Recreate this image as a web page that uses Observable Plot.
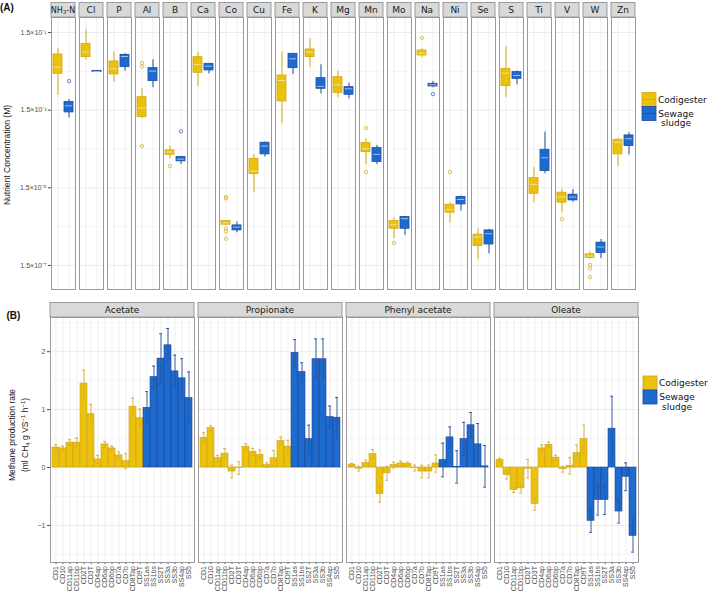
<!DOCTYPE html>
<html><head><meta charset="utf-8">
<script src="https://cdn.jsdelivr.net/npm/d3@7"></script>
<script src="https://cdn.jsdelivr.net/npm/@observablehq/plot@0.6"></script>
<style>
body{margin:0;background:#fff;}
#wrap{position:relative;width:709px;height:594px;overflow:hidden;background:#fff;}
.pa{position:absolute;left:0;}
</style></head><body><div id="wrap"></div>
<script>
// ---------- Panel A data ----------
const elements = ["NH₃-N","Cl","P","Al","B","Ca","Co","Cu","Fe","K","Mg","Mn","Mo","Na","Ni","Se","S","Ti","V","W","Zn"];
const groups = ["Codigester","Sewage sludge"];
const codLow  = [0.00358,0.0297,0.0079,0.0009,8.4e-5,0.0061,1.62e-6,1.12e-5,6.7e-4,0.0192,0.00312,5.9e-5,7.3e-7,0.0334,1.85e-6,2.11e-7,0.00312,6.2e-6,3.36e-6,2.2e-7,5.3e-5];
const codQ1   = [0.0129,0.0348,0.01245,0.00099,1.06e-4,0.01374,1.68e-6,3.38e-5,0.00251,0.0348,0.00411,1.25e-4,1.32e-6,0.0384,3.42e-6,4.74e-7,0.00623,1.05e-5,6.2e-6,2.33e-7,1.09e-4];
const codMed  = [0.0192,0.0468,0.0174,0.00169,1.25e-4,0.0225,1.88e-6,4.05e-5,0.0087,0.0468,0.00674,1.52e-4,1.68e-6,0.0441,4.08e-6,8.1e-7,0.01346,1.84e-5,8.65e-6,2.62e-7,2.25e-4];
const codQ3   = [0.0407,0.0766,0.0269,0.00324,1.38e-4,0.0348,2.09e-6,8.4e-5,0.01172,0.0547,0.0106,2.12e-4,2.09e-6,0.0516,5.5e-6,9.3e-7,0.0174,2.67e-5,1.12e-5,2.9e-7,2.59e-4];
const codHigh = [0.057,0.176,0.0468,0.00532,1.78e-4,0.0468,2.09e-6,1.09e-4,0.0468,0.103,0.0152,2.75e-4,2.55e-6,0.057,6.2e-6,1.32e-6,0.0654,5.1e-5,1.36e-5,3.33e-7,2.86e-4];
const sewLow  = [9.5e-4,0.0143,0.0152,0.00565,6.0e-5,0.0129,1.04e-6,9.3e-5,0.01245,0.00395,0.00294,5.9e-5,8.9e-7,0.00565,3.78e-6,3.0e-7,0.00674,3.45e-5,6.4e-6,2.24e-7,1.06e-4];
const sewQ1   = [0.00131,0.0143,0.0192,0.00838,7.2e-5,0.0158,1.20e-6,1.09e-4,0.0181,0.00532,0.00373,6.9e-5,1.32e-6,0.0061,5.6e-6,5.2e-7,0.0096,4.05e-5,7.1e-6,3.13e-7,1.78e-4];
const sewMed  = [0.00194,0.0149,0.0361,0.0152,8.2e-5,0.0204,1.46e-6,1.78e-4,0.0315,0.0061,0.00532,1.09e-4,2.40e-6,0.00674,7.5e-6,9.8e-7,0.01172,8.9e-5,8.65e-6,4.47e-7,2.75e-4];
const sewQ3   = [0.00242,0.01545,0.0399,0.0181,9.3e-5,0.0234,1.61e-6,2.17e-4,0.0424,0.01002,0.00588,1.58e-4,2.65e-6,0.00716,8.65e-6,1.20e-6,0.0143,1.43e-4,9.95e-6,5.8e-7,3.35e-4];
const sewHigh = [0.00283,0.01545,0.0424,0.0297,9.3e-5,0.0234,1.97e-6,2.25e-4,0.0424,0.0221,0.00744,1.85e-4,2.75e-6,0.00822,9.2e-6,1.27e-6,0.0152,4.08e-4,1.36e-5,7.0e-7,3.92e-4];
const codOutElement = ["Al","Al","Al","B","Co","Co","Co","Co","Co","Mn","Mn","Mo","Na","Ni","V","W","W","W"];
const codOutValue   = [0.0244,0.0200,1.78e-4,5.4e-5,8.65e-6,8.0e-6,1.32e-6,1.13e-6,7.3e-7,5.17e-4,3.81e-5,5.7e-7,0.109,3.81e-5,2.31e-6,1.54e-7,1.26e-7,7.5e-8];
const sewOutElement = ["NH₃-N","B","Na"];
const sewOutValue   = [0.00838,4.25e-4,0.00388];
const yTicksA = [0.15,1.5e-3,1.5e-5,1.5e-7];
const yMinorA = [1.5e-2,1.5e-4,1.5e-6];

// ---------- Panel B data ----------
const substrates = ["Acetate","Propionate","Phenyl acetate","Oleate"];
const samples = ["CD1","CD10","CD11ap","CD11bp","CD2T","CD3T","CD4ap","CD6ap","CD6bp","CD7a","CD7b","CD8Tap","CD9T","SS1as","SS1bs","SS2T","SS3a","SS3b","SS4ap","SS5"];
const acetate      = [0.345,0.33,0.43,0.43,1.45,0.92,0.14,0.40,0.33,0.21,0.11,1.05,0.85,1.03,1.56,1.88,2.11,1.66,1.54,1.20];
const acetateSE    = [0.05,0.04,0.05,0.08,0.23,0.17,0.07,0.05,0.04,0.06,0.13,0.15,0.16,0.28,0.19,0.43,0.29,0.28,0.34,0.45];
const propionate   = [0.51,0.68,0.16,0.24,-0.07,-0.01,0.36,0.27,0.22,0.04,0.16,0.46,0.36,1.98,1.65,0.49,1.87,1.87,0.87,0.86];
const propionateSE = [0.09,0.04,0.05,0.09,0.11,0.11,0.05,0.06,0.08,0.04,0.13,0.07,0.11,0.23,0.16,0.24,0.35,0.35,0.19,0.35];
const phenylAcetate   = [0.05,-0.02,0.08,0.23,-0.46,-0.10,0.04,0.07,0.06,-0.01,-0.07,-0.07,0.07,0.13,0.52,0.01,0.49,0.73,0.40,0.02];
const phenylAcetateSE = [0.02,0.04,0.05,0.08,0.14,0.12,0.05,0.04,0.03,0.05,0.11,0.11,0.15,0.29,0.18,0.28,0.29,0.22,0.36,0.36];
const oleate       = [0.13,-0.13,-0.39,-0.36,-0.02,-0.63,0.33,0.39,0.17,-0.03,0.03,0.25,0.49,-0.92,-0.56,-0.56,0.67,-0.76,-0.16,-1.18];
const oleateSE     = [0.03,0.07,0.04,0.08,0.16,0.11,0.06,0.05,0.04,0.05,0.14,0.14,0.24,0.20,0.26,0.25,0.56,0.20,0.24,0.28];
const yTicksB = [-1,0,1,2];
const yMinorB = [-1.5,-0.5,0.5,1.5,2.5];

// ---------- styling ----------
const COL = {
  "Codigester":    {fill:"#EBC10C", stroke:"#D3A912", med:"#F7E18E", pt:"#E0B83A", err:"#D8AE2A", bar:"#C9A224"},
  "Sewage sludge": {fill:"#1E6BD0", stroke:"#1B4E9E", med:"#9FBDE9", pt:"#5A78C0", err:"#2B4F98", bar:"#1C4591"}
};
const GRID = "#EBEBEB", BORDER = "#9A9A9A", STRIP = "#D9D9D9";
const wrap = document.getElementById("wrap");
const svgOf = p => (p.tagName.toLowerCase() === "svg" ? p : p.querySelector("svg"));

// ---------- Panel A ----------
const boxRows = [];
elements.forEach((e, i) => {
  boxRows.push({element:e, group:groups[0], low:codLow[i], q1:codQ1[i], med:codMed[i], q3:codQ3[i], high:codHigh[i]});
  boxRows.push({element:e, group:groups[1], low:sewLow[i], q1:sewQ1[i], med:sewMed[i], q3:sewQ3[i], high:sewHigh[i]});
});
const outRows = codOutElement.map((e, i) => ({element:e, group:groups[0], value:codOutValue[i]}))
  .concat(sewOutElement.map((e, i) => ({element:e, group:groups[1], value:sewOutValue[i]})));
const sup = {"-":"⁻","0":"⁰","1":"¹","2":"²","3":"³","4":"⁴","5":"⁵","6":"⁶","7":"⁷","8":"⁸","9":"⁹"};
const fmtA = v => "1.5×10" + String(Math.round(Math.log10(v / 1.5))).split("").map(c => sup[c]).join("");

const marksA = [
  Plot.ruleY(yMinorA, {stroke:GRID, strokeWidth:0.5}),
  Plot.ruleY(yTicksA, {stroke:GRID, strokeWidth:1}),
  Plot.gridX({stroke:GRID, strokeOpacity:1, strokeWidth:0.8}),
  ...groups.flatMap(g => {
    const d = boxRows.filter(r => r.group === g), o = outRows.filter(r => r.group === g), c = COL[g];
    return [
      Plot.ruleX(d, {fx:"element", x:"group", y1:"low", y2:"high", stroke:c.stroke, strokeWidth:1}),
      Plot.barY(d, {fx:"element", x:"group", y1:"q1", y2:"q3", fill:c.fill, stroke:c.stroke, strokeWidth:0.8}),
      Plot.tickY(d, {fx:"element", x:"group", y:"med", stroke:c.med, strokeWidth:1, insetLeft:0.8, insetRight:0.8}),
      Plot.dot(o, {fx:"element", x:"group", y:"value", r:1.7, stroke:c.pt, strokeWidth:0.9, fill:"none"})
    ];
  }),
  Plot.frame({stroke:BORDER, strokeWidth:1})
];
const plotA = Plot.plot({
  width: 640, height: 293,
  marginTop: 17, marginBottom: 4, marginLeft: 49, marginRight: 3,
  style: {fontFamily:"Liberation Sans, Arial, sans-serif", fontSize:"7px", color:"#4D4D4D", background:"transparent", overflow:"visible"},
  fx: {domain: elements, axis: null, paddingInner: 0.135, paddingOuter: 0},
  x: {domain: groups, axis: null, paddingInner: 0.15, paddingOuter: 0.1},
  y: {type:"log", domain:[3.6e-8, 0.365], ticks: yTicksA, tickFormat: fmtA, tickSize: 3, tickPadding: 2, label: null},
  marks: marksA
});
const divA = document.createElement("div"); divA.className = "pa"; divA.style.top = "0px";
divA.appendChild(plotA); wrap.appendChild(divA);

// ---------- Panel B ----------
const rates = [acetate, propionate, phenylAcetate, oleate];
const ses = [acetateSE, propionateSE, phenylAcetateSE, oleateSE];
const barRows = substrates.flatMap((s, si) => samples.map((smp, i) => ({
  substrate: s, sample: smp, group: smp.startsWith("CD") ? groups[0] : groups[1], value: rates[si][i], se: ses[si][i]
})));
const marksB = [
  Plot.ruleY(yMinorB, {stroke:GRID, strokeWidth:0.5}),
  Plot.ruleY(yTicksB, {stroke:GRID, strokeWidth:1}),
  Plot.gridX({stroke:GRID, strokeOpacity:1, strokeWidth:0.8}),
  ...groups.flatMap(g => {
    const d = barRows.filter(r => r.group === g), c = COL[g];
    return [
      Plot.barY(d, {fx:"substrate", x:"sample", y:"value", fill:c.fill, stroke:c.bar, strokeWidth:0.6}),
      Plot.ruleX(d, {fx:"substrate", x:"sample", y1:r => r.value - r.se, y2:r => r.value + r.se, stroke:c.err, strokeWidth:0.9}),
      Plot.tickY(d, {fx:"substrate", x:"sample", y:r => r.value + r.se, stroke:c.err, strokeWidth:0.9, insetLeft:2, insetRight:2}),
      Plot.tickY(d, {fx:"substrate", x:"sample", y:r => r.value - r.se, stroke:c.err, strokeWidth:0.9, insetLeft:2, insetRight:2})
    ];
  }),
  Plot.frame({stroke:BORDER, strokeWidth:1})
];
const plotB = Plot.plot({
  width: 640, height: 304,
  marginTop: 27, marginBottom: 32, marginLeft: 49, marginRight: 2,
  style: {fontFamily:"Liberation Sans, Arial, sans-serif", fontSize:"7px", color:"#4D4D4D", background:"transparent", overflow:"visible"},
  fx: {domain: substrates, axis: null, paddingInner: 0.03, paddingOuter: 0},
  x: {domain: samples, paddingInner: 0, paddingOuter: 0.1, tickRotate: -90, tickSize: 2, tickPadding: 1.5, label: null},
  y: {domain: [-1.64, 2.59], ticks: yTicksB, tickFormat: d => (d < 0 ? "−" : "") + Math.abs(d), tickSize: 3, tickPadding: 2, label: null},
  marks: marksB
});
const divB = document.createElement("div"); divB.className = "pa"; divB.style.top = "290px";
divB.appendChild(plotB); wrap.appendChild(divB);

// ---------- facet strips (positions from Plot's fx scale) ----------
function addStrips(plot, labels, y, h, family, size) {
  const fx = plot.scale("fx");
  const g = d3.select(svgOf(plot)).append("g");
  labels.forEach(l => {
    const x0 = fx.apply(l);
    g.append("rect").attr("x", x0).attr("y", y).attr("width", fx.bandwidth).attr("height", h)
      .attr("fill", STRIP).attr("stroke", BORDER).attr("stroke-width", 1);
    const t = g.append("text").attr("x", x0 + fx.bandwidth / 2).attr("y", y + h / 2)
      .attr("text-anchor", "middle").attr("dominant-baseline", "central")
      .attr("font-family", family).attr("font-size", size).attr("fill", "#1A1A1A");
    if (l === "NH₃-N") {
      t.attr("font-size", 8);
      t.append("tspan").text("NH");
      t.append("tspan").attr("font-size", 5.5).attr("dy", 2).text("3");
      t.append("tspan").attr("dy", -2).text("-N");
    } else t.text(l);
  });
}
addStrips(plotA, elements, 2.5, 14.5, "DejaVu Sans, sans-serif", 9);
addStrips(plotB, substrates, 12.5, 14.5, "DejaVu Sans, sans-serif", 9);

// ---------- overlay: titles, panel tags, legends ----------
const ov = d3.select(wrap).append("svg").attr("width", 709).attr("height", 594)
  .style("position", "absolute").style("left", "0px").style("top", "0px").style("pointer-events", "none");
ov.append("text").attr("x", 0).attr("y", 10.5).attr("font-family", "Liberation Sans, Arial, sans-serif")
  .attr("font-weight", "bold").attr("font-size", 10).attr("fill", "#111").text("(A)");
ov.append("text").attr("x", 6.5).attr("y", 319).attr("font-family", "Liberation Sans, Arial, sans-serif")
  .attr("font-weight", "bold").attr("font-size", 10).attr("fill", "#111").text("(B)");
ov.append("text").attr("transform", "translate(10,155) rotate(-90)").attr("text-anchor", "middle")
  .attr("font-family", "Liberation Sans, Arial, sans-serif").attr("font-size", 8.5).attr("fill", "#222")
  .text("Nutrient Concentration (M)");
ov.append("text").attr("transform", "translate(14.5,435) rotate(-90)").attr("text-anchor", "middle")
  .attr("font-family", "Liberation Sans, Arial, sans-serif").attr("font-size", 8.5).attr("fill", "#222")
  .text("Methane production rate");
const t2 = ov.append("text").attr("transform", "translate(28,435) rotate(-90)").attr("text-anchor", "middle")
  .attr("font-family", "Liberation Sans, Arial, sans-serif").attr("font-size", 8.5).attr("fill", "#222");
t2.append("tspan").text("(ml CH");
t2.append("tspan").attr("font-size", 6).attr("dy", 2).text("4");
t2.append("tspan").attr("dy", -2).text(" g VS");
t2.append("tspan").attr("font-size", 6).attr("dy", -3).text("−1");
t2.append("tspan").attr("dy", 3).text(" h");
t2.append("tspan").attr("font-size", 6).attr("dy", -3).text("−1");
t2.append("tspan").attr("dy", 3).text(")");

function legend(x, y, box) {
  const fam = "DejaVu Sans, sans-serif";
  groups.forEach((g, i) => {
    const c = COL[g], yy = y + i * 14;
    ov.append("rect").attr("x", x).attr("y", yy).attr("width", 14).attr("height", 14)
      .attr("fill", c.fill).attr("stroke", box ? c.stroke : c.bar).attr("stroke-width", 0.8);
    if (box) ov.append("line").attr("x1", x + 0.5).attr("x2", x + 13.5).attr("y1", yy + 7).attr("y2", yy + 7)
      .attr("stroke", c.stroke).attr("stroke-width", 0.8);
  });
  ov.append("text").attr("x", x + 16).attr("y", y + 7).attr("dominant-baseline", "central")
    .attr("font-family", fam).attr("font-size", 9).attr("fill", "#111").text("Codigester");
  ov.append("text").attr("x", x + 34).attr("y", y + 21).attr("text-anchor", "middle").attr("dominant-baseline", "central")
    .attr("font-family", fam).attr("font-size", 9).attr("fill", "#111").text("Sewage");
  ov.append("text").attr("x", x + 34).attr("y", y + 30.5).attr("text-anchor", "middle").attr("dominant-baseline", "central")
    .attr("font-family", fam).attr("font-size", 9).attr("fill", "#111").text("sludge");
}
legend(642, 92.5, true);
legend(643, 376, false);
</script></body></html>
